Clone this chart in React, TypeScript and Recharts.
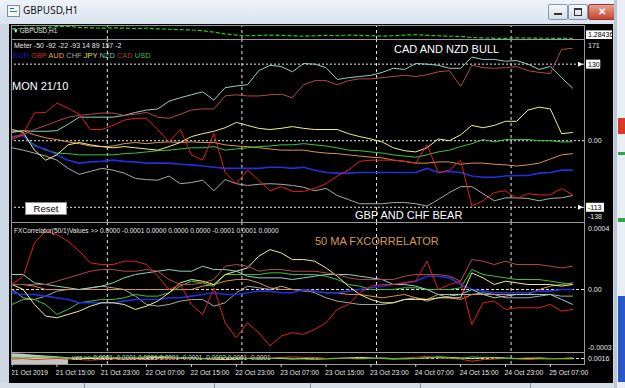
import React from 'react';
import { LineChart, Line, XAxis, YAxis, ReferenceLine, ComposedChart, Area } from 'recharts';

// ---------- categories (hours since 21 Oct 2019 07:00, H1 chart) ----------
const hours = [0, 2, 4, 6, 8, 10, 12, 14, 16, 18, 20, 22, 24, 26, 28, 30, 32, 34, 36, 38, 40, 42, 44, 46, 48, 50, 52, 54, 56, 58, 60, 62, 64, 66, 68, 70, 72, 74, 76, 78, 80, 82, 84, 86, 88, 90, 92, 94, 96, 98, 100];
const dayBreaks = [17, 41, 65, 89];
const timeTicks = [0, 8, 16, 24, 32, 40, 48, 56, 64, 72, 80, 88, 96];
const timeLabels = ['21 Oct 2019', '21 Oct 15:00', '21 Oct 23:00', '22 Oct 07:00', '22 Oct 15:00', '22 Oct 23:00', '23 Oct 07:00', '23 Oct 15:00', '23 Oct 23:00', '24 Oct 07:00', '24 Oct 15:00', '24 Oct 23:00', '25 Oct 07:00'];

const currencies = ['EUR', 'GBP', 'AUD', 'CHF', 'JPY', 'NZD', 'CAD', 'USD'];

// ---------- GBPUSD price (top mini window) ----------
const gbpusd = [1.2975, 1.2985, 1.299, 1.2995, 1.3005, 1.301, 1.2995, 1.299, 1.2985, 1.299, 1.2985, 1.298, 1.2985, 1.2975, 1.297, 1.2965, 1.296, 1.295, 1.293, 1.2905, 1.289, 1.288, 1.2885, 1.289, 1.2885, 1.288, 1.2875, 1.288, 1.2885, 1.288, 1.289, 1.2885, 1.288, 1.2875, 1.288, 1.289, 1.2895, 1.2885, 1.288, 1.2875, 1.287, 1.2855, 1.285, 1.2845, 1.2845, 1.285, 1.2848, 1.2846, 1.2845, 1.2844, 1.28436];
const priceTicks = [1.28436];
const priceTickLabels = ['1.28436'];

// ---------- Meter window ----------
const eurMeter = [7, 9, -9, -14, -24, -33, -38, -36, -35, -33, -35, -36, -38, -38, -38, -40, -41, -43, -45, -47, -47, -47, -47, -45, -45, -47, -45, -50, -54, -55, -55, -54, -54, -54, -54, -54, -54, -47, -54, -52, -54, -60, -62, -62, -60, -59, -59, -55, -54, -50, -50];
const gbpMeter = [5, 12, 47, 48, 64, 55, 45, 19, 19, 26, 35, 38, 38, 19, -2, 19, -24, -33, 12, -54, -73, -50, -67, -85, -78, -86, -86, -81, -73, -60, -50, -35, -33, -33, -33, -35, -38, -7, -54, -50, -33, -111, -102, -88, -85, -98, -90, -92, -92, -81, -92];
const audMeter = [16, 17, 10, 5, 2, -2, -5, -9, -10, -9, -5, -3, -5, -3, -2, -3, -2, -3, -3, -7, -9, -10, -12, -14, -16, -16, -16, -19, -21, -22, -24, -26, -28, -29, -33, -35, -38, -38, -36, -36, -40, -38, -38, -40, -41, -43, -41, -38, -31, -24, -22];
const chfMeter = [-12, -16, -21, -26, -33, -47, -57, -52, -47, -50, -55, -64, -66, -67, -60, -73, -71, -67, -85, -66, -73, -76, -74, -73, -74, -76, -79, -85, -81, -93, -100, -107, -107, -107, -105, -105, -107, -111, -100, -88, -78, -78, -90, -102, -97, -97, -98, -102, -98, -97, -93];
const jpyMeter = [19, 14, -16, -33, -24, -7, -3, -7, -10, -12, -10, -12, -14, -16, -10, -3, 7, 12, 16, 22, 31, 26, 21, 19, 21, 24, 21, 19, 19, 19, 12, 7, 3, -2, -12, -17, -19, -12, 3, 0, 10, 26, 22, 26, 33, 33, 52, 57, 54, 12, 14];
const nzdMeter = [14, 17, 16, 16, 17, 28, 40, 40, 40, 40, 43, 48, 52, 54, 67, 73, 78, 83, 69, 90, 93, 95, 119, 128, 126, 117, 131, 130, 124, 104, 107, 109, 111, 116, 123, 121, 131, 130, 128, 123, 123, 142, 138, 138, 135, 136, 130, 121, 126, 107, 89];
const cadMeter = [2, 10, 19, 26, 33, 40, 43, 45, 47, 47, 43, 45, 48, 40, 38, 45, 52, 54, 54, 76, 78, 76, 76, 78, 79, 73, 95, 102, 102, 95, 102, 105, 105, 107, 109, 111, 109, 112, 117, 119, 92, 128, 124, 123, 124, 126, 119, 116, 114, 155, 157];
const usdMeter = [7, 9, -7, -16, -21, -22, -24, -24, -24, -24, -22, -21, -19, -17, -16, -14, -12, -12, -10, -16, -14, -12, -10, -9, -7, -7, -5, -7, -9, -12, -16, -17, -19, -21, -24, -26, -28, -24, -19, -16, -10, -5, 2, -2, 2, 2, 2, 0, 0, -2, -2];
const meterLevels = [130, 0, -113];
const meterTicks = [171, 130, 0, -113, -138];
const meterTickLabels = ['171', '130', '0.00', '-113', '-138'];
const meterLastValues = [-50, -92, -22, -93, 14, 89, 157, -2];

// ---------- FXCorrelator(50/1) window, values in units of 0.0001 ----------
const eurCorr = [-0.2, -0.3, -0.3, -0.4, -0.5, -0.6, -0.8, -0.8, -0.8, -0.8, -0.7, -0.6, -0.6, -0.6, -0.5, -0.5, -0.4, -0.3, -0.2, -0.3, -0.3, -0.2, -0.1, -0.1, -0.2, -0.2, 0.0, -0.1, -0.2, -0.2, -0.1, 0.0, 0.1, 0.2, 0.3, 0.4, 0.5, 0.8, 0.8, 0.7, 0.3, 0.0, -0.1, -0.2, -0.2, -0.2, -0.2, -0.1, -0.1, 0.0, 0.0];
const gbpCorr = [0.3, 0.8, 2.8, 3.5, 3.3, 2.9, 2.3, 1.6, 1.5, 1.5, 1.7, 1.7, 1.5, 0.8, 0.0, 0.3, -0.9, -1.5, 0.1, -2.0, -2.9, -2.0, -2.6, -3.4, -2.8, -2.6, -2.7, -2.4, -2.0, -1.2, -0.9, -0.2, 0.2, 0.3, 0.3, 0.4, 0.5, 1.7, 0.0, 0.3, 0.5, -2.1, -0.8, -0.7, -1.2, -1.1, -1.1, -1.1, -0.9, -1.3, -1.2];
const audCorr = [0.3, 0.3, 0.2, 0.0, 0.0, 0.0, 0.0, 0.0, 0.0, 0.0, 0.0, 0.0, 0.0, 0.0, 0.0, 0.0, 0.0, 0.2, 0.3, 0.5, 0.6, 0.6, 0.4, 0.1, 0.0, 0.0, -0.1, -0.1, -0.2, -0.2, -0.3, -0.3, -0.4, -0.5, -0.4, -0.3, -0.5, -0.6, -0.3, -0.5, -0.6, -0.3, -0.3, -0.3, -0.3, -0.3, -0.3, 0.0, 0.2, 0.3, 0.4];
const chfCorr = [0.0, -0.5, -0.6, -0.4, -0.1, 0.0, 0.0, 0.1, 0.2, 0.1, 0.0, -0.4, -0.9, -1.0, -0.9, -0.7, -0.6, -0.6, -1.0, -0.8, -0.2, 0.2, 0.1, 0.0, 0.2, 0.0, 0.0, -0.2, -0.5, -0.7, -0.8, -0.9, -0.9, -0.9, -0.8, -0.6, -0.5, -0.7, -0.5, -0.4, -0.3, -0.3, -0.2, -0.3, -0.5, -0.5, -0.5, -0.4, -0.3, -0.4, -0.4];
const jpyCorr = [0.3, 0.0, -0.9, -1.6, -1.7, -1.5, -1.3, -1.0, -0.8, -0.8, -0.9, -1.2, -1.0, -0.7, -0.2, 0.4, 0.6, 0.5, 0.3, 0.9, 1.1, 1.3, 2.0, 2.4, 2.2, 1.8, 1.8, 1.7, 1.3, 0.8, 0.2, -0.3, -0.6, -0.8, -0.8, -0.6, -0.6, -0.6, -0.5, -0.5, -0.5, 1.0, 0.7, 0.3, 0.5, 0.4, 0.3, 0.3, 0.3, 0.2, 0.3];
const nzdCorr = [0.9, 0.9, 0.4, 0.3, 0.2, 0.1, 0.0, 0.1, 0.2, 0.4, 0.7, 0.9, 1.0, 1.1, 1.2, 1.1, 1.1, 1.4, 1.2, 1.2, 1.1, 0.8, 0.7, 0.7, 0.7, 0.6, 0.7, 0.8, 0.9, 0.9, 0.9, 0.8, 0.7, 0.6, 0.3, 0.3, 0.2, 0.0, -0.3, -0.3, -0.3, 0.0, -0.3, -0.5, -0.4, -0.3, -0.3, -0.3, -0.3, -0.6, -0.9];
const cadCorr = [0.3, 0.3, 0.3, 0.3, 0.5, 0.7, 0.9, 1.1, 1.2, 1.2, 1.1, 1.1, 1.2, 1.1, 0.6, 0.3, 0.3, 0.4, 0.6, 1.4, 1.5, 1.4, 1.1, 1.2, 1.2, 1.1, 1.1, 1.1, 1.0, 0.9, 0.7, 0.6, 0.6, 0.6, 0.6, 0.8, 0.9, 0.9, 0.9, 0.8, 0.5, 1.8, 1.7, 1.5, 1.7, 1.5, 1.5, 1.5, 1.4, 1.3, 1.4];
const usdCorr = [-0.9, -0.6, -0.6, -0.9, -1.5, -1.2, -0.8, -0.7, -0.6, -0.6, -0.5, -0.3, -0.4, -0.4, -0.2, 0.2, 0.5, 0.4, 0.2, 0.9, 0.9, 0.9, 0.9, 1.0, 1.0, 0.9, 0.9, 0.9, 0.8, 0.6, 0.3, 0.2, 0.0, 0.0, 0.0, 0.1, 0.1, 0.0, 0.0, 0.0, 0.1, 1.2, 0.9, 0.8, 0.7, 0.6, 0.6, 0.6, 0.5, 0.4, 0.3];
const corrTicks = [4.0, 0, -3.7];
const corrTickLabels = ['0.0004', '0.00', '-0.0003'];
const corrLastValues = ['0.0000', '-0.0001', '0.0000', '0.0000', '0.0000', '-0.0001', '0.0001', '0.0000'];

// ---------- bottom mini window ----------
const miniGreen = [0.2, 0.1, 0.2, 0.3, 0.2, 0.1, 0.1, 0.2, 0.3, 0.2, 0.1, 0.2, 0.3, 0.4, 0.3, 0.2, 0.1, 0.0, 0.1, 0.2, 0.1, 0.0, -0.1, 0.0, 0.1, 0.0, -0.1, -0.2, -0.1, 0.0, 0.1, 0.0, 0.0, 0.1, 0.0, -0.1, 0.0, 0.1, 0.2, 0.1, 0.0, 0.3, 0.2, 0.1, 0.0, 0.0, 0.1, 0.0, -0.1, 0.0, 0.0];
const miniRed = [-0.1, 0.0, -0.2, -0.1, 0.0, -0.1, -0.2, -0.3, -0.2, -0.1, 0.0, -0.1, -0.2, -0.1, 0.0, 0.1, 0.0, -0.1, 0.0, 0.1, 0.2, 0.1, 0.0, 0.1, 0.2, 0.3, 0.2, 0.1, 0.0, 0.1, 0.0, -0.1, 0.0, 0.1, 0.0, 0.1, 0.2, 0.4, 0.1, 0.0, -0.1, -0.5, -0.2, -0.1, 0.0, -0.1, -0.2, -0.1, 0.0, -0.1, -0.1];
const miniYellow = [0.0, 0.1, 0.0, -0.1, 0.0, 0.1, 0.0, 0.0, 0.1, 0.0, -0.1, 0.0, 0.1, 0.2, 0.1, 0.0, 0.1, 0.0, -0.1, -0.2, -0.1, 0.0, 0.1, 0.0, 0.0, -0.1, 0.0, 0.1, 0.0, 0.0, 0.1, 0.2, 0.1, 0.0, -0.1, 0.0, 0.0, 0.1, 0.3, 0.2, 0.1, 0.0, 0.1, 0.2, 0.1, 0.0, 0.0, 0.1, 0.0, 0.0, 0.1];
const miniHist = [0.95, 0.85, 0.7, 0.55, 0.4, 0.25];
const miniTicks = [0];
const miniTickLabels = ['0.0016'];
const miniValues = ['0.0001', '-0.0001', '0.0001', '0.0001', '-0.0001', '-0.0002', '0.0001', '-0.0001'];

// ---------- styling ----------
const COLORS: Record<string, string> = {
  EUR: '#2030dc', GBP: '#e61e1e', AUD: '#d8944c', CHF: '#a9a9a9',
  JPY: '#f2ee86', NZD: '#8fd2c4', CAD: '#b24a4a', USD: '#3cc43c',
};
const LEGEND_COLORS: Record<string, string> = {
  EUR: '#1c1cc8', GBP: '#d22c2c', AUD: '#e4a040', CHF: '#a8a8a8',
  JPY: '#e6e040', NZD: '#7cc0bc', CAD: '#a83c3c', USD: '#3cc43c',
};
const DRAW_ORDER = ['CHF', 'AUD', 'USD', 'EUR', 'JPY', 'NZD', 'CAD', 'GBP'];
const FONT = '"Liberation Sans", Arial, sans-serif';
const PLOT_W = 572;
const AXIS_W = 28;

function makeRightTick(values: number[], labels: string[], boxed: boolean[], nudge: number[]) {
  return (props: any) => {
    const v = props.payload ? props.payload.value : undefined;
    const i = values.indexOf(v);
    if (i < 0) return <g />;
    const y = props.y + nudge[i];
    const x = PLOT_W + 3;
    const label = labels[i];
    const w = label.length * 3.75 + 3;
    return (
      <g>
        {boxed[i] && <rect x={x - 1} y={y - 4.5} width={w} height={9} fill="#ffffff" />}
        <text x={x + 1} y={y} fill={boxed[i] ? '#000' : '#e8e8e8'} fontSize={7} fontFamily={FONT} dominantBaseline="central">
          {label}
        </text>
      </g>
    );
  };
}

const RightArrow = (props: any) => {
  const vb = props.viewBox;
  if (!vb) return null;
  const x = vb.x + vb.width - 1;
  const y = vb.y;
  return <polygon points={`${x - 5},${y - 2.5} ${x},${y} ${x - 5},${y + 2.5}`} fill="#ffffff" />;
};

const TimeTick = (props: any) => {
  const { x, y, payload } = props;
  const i = timeTicks.indexOf(payload.value);
  return (
    <g>
      <line x1={x} x2={x} y1={y} y2={y + 3} stroke="#cfcfcf" />
      <text x={x - 1} y={y + 10.5} fill="#e4e4e4" fontSize={6.8} fontFamily={FONT} textAnchor="start">
        {timeLabels[i]}
      </text>
    </g>
  );
};

const gridLines = (keyp: string) =>
  dayBreaks.map((d) => (
    <ReferenceLine key={keyp + d} x={d} stroke="#e6e6e6" strokeDasharray="3 3" ifOverflow="extendDomain" />
  ));

export default function App() {
  const priceRows = hours.map((h, i) => ({ h, price: gbpusd[i] }));
  const meterSeries: Record<string, number[]> = {
    EUR: eurMeter, GBP: gbpMeter, AUD: audMeter, CHF: chfMeter,
    JPY: jpyMeter, NZD: nzdMeter, CAD: cadMeter, USD: usdMeter,
  };
  const corrSeries: Record<string, number[]> = {
    EUR: eurCorr, GBP: gbpCorr, AUD: audCorr, CHF: chfCorr,
    JPY: jpyCorr, NZD: nzdCorr, CAD: cadCorr, USD: usdCorr,
  };
  const meterRows = hours.map((h, i) => {
    const r: any = { h };
    currencies.forEach((c) => (r[c] = meterSeries[c][i]));
    return r;
  });
  const corrRows = hours.map((h, i) => {
    const r: any = { h };
    currencies.forEach((c) => (r[c] = corrSeries[c][i]));
    return r;
  });
  const miniRows = hours.map((h, i) => ({
    h, g: miniGreen[i], r: miniRed[i], y: miniYellow[i], hist: i < miniHist.length ? miniHist[i] : null,
  }));

  const priceTick = makeRightTick(priceTicks, priceTickLabels, [true], [-3.5]);
  const meterTick = makeRightTick(meterTicks, meterTickLabels, [false, true, false, true, false], [5, 0, 0, 0, -6]);
  const corrTick = makeRightTick(corrTicks, corrTickLabels, [false, false, false], [5, 0, -4]);
  const miniTick = makeRightTick(miniTicks, miniTickLabels, [false], [0]);

  const hline = (top: number) => (
    <div style={{ position: 'absolute', left: 11, top, width: 574, height: 1, background: '#9a9a9a' }} />
  );

  return (
    <div style={{ position: 'absolute', left: 0, top: 0, width: 625, height: 388, background: '#cdd7e3', overflow: 'hidden', fontFamily: FONT }}>
      {/* title bar */}
      <div style={{ position: 'absolute', left: 0, top: 0, width: 614, height: 24, background: 'linear-gradient(#eef3f9, #d9e3ee)', borderRight: '1px solid #9aa8b8' }} />
      <div style={{ position: 'absolute', left: 7, top: 5, width: 11, height: 10, background: '#f4f8fc', border: '1px solid #7a8ea8' }}>
        <div style={{ position: 'absolute', left: 2, top: 5, width: 7, height: 1, background: '#2a9a2a' }} />
        <div style={{ position: 'absolute', left: 2, top: 2, width: 4, height: 1, background: '#3a5ad0' }} />
      </div>
      <div style={{ position: 'absolute', left: 23, top: 3, fontSize: 10, lineHeight: '14px', color: '#111', fontFamily: '"Noto Sans", "Open Sans", sans-serif' }}>GBPUSD,H1</div>
      <div style={{ position: 'absolute', left: 548, top: 4, width: 18, height: 14, borderRadius: 2, border: '1px solid #8797ab', background: 'linear-gradient(#f6f8fb, #d3dce8)' }}>
        <div style={{ position: 'absolute', left: 5, top: 8, width: 8, height: 2, background: '#333' }} />
      </div>
      <div style={{ position: 'absolute', left: 568, top: 4, width: 18, height: 14, borderRadius: 2, border: '1px solid #8797ab', background: 'linear-gradient(#f6f8fb, #d3dce8)' }}>
        <div style={{ position: 'absolute', left: 5, top: 3, width: 6, height: 5, border: '1px solid #333', borderTopWidth: 2 }} />
      </div>
      <div style={{ position: 'absolute', left: 588, top: 4, width: 26, height: 14, borderRadius: 2, border: '1px solid #8a3a30', background: 'linear-gradient(#e8a090, #c8442e)', color: '#fff', fontSize: 10, fontWeight: 700, lineHeight: '14px', textAlign: 'center' }}>✕</div>

      {/* black chart canvas */}
      <div style={{ position: 'absolute', left: 9, top: 24, width: 604, height: 359, background: '#000' }} />

      {/* right neighbour strip */}
      <div style={{ position: 'absolute', left: 614, top: 0, width: 11, height: 388, background: '#e9eef5' }} />
      <div style={{ position: 'absolute', left: 614, top: 0, width: 3, height: 388, background: '#b9c6d6' }} />
      <div style={{ position: 'absolute', left: 618, top: 118, width: 7, height: 16, background: '#d83a2a' }} />
      <div style={{ position: 'absolute', left: 618, top: 152, width: 7, height: 3, background: '#2aa84a' }} />
      <div style={{ position: 'absolute', left: 618, top: 218, width: 7, height: 4, background: '#2aa84a' }} />
      <div style={{ position: 'absolute', left: 618, top: 296, width: 7, height: 86, background: '#2a58c8' }} />

      {/* bottom tab strip */}
      <div style={{ position: 'absolute', left: 0, top: 383, width: 614, height: 5, background: '#d6dde6' }} />
      {[84, 214, 310, 420, 530].map((x) => (
        <div key={x} style={{ position: 'absolute', left: x, top: 383, width: 1, height: 5, background: '#8a96a6' }} />
      ))}

      {/* frame lines */}
      {hline(25)}
      {hline(39)}
      {hline(222)}
      {hline(352)}
      {hline(364)}
      <div style={{ position: 'absolute', left: 11, top: 25, width: 1, height: 340, background: '#9a9a9a' }} />
      <div style={{ position: 'absolute', left: 584, top: 25, width: 1, height: 340, background: '#9a9a9a' }} />

      {/* GBPUSD price window */}
      <div style={{ position: 'absolute', left: 12, top: 26 }}>
        <LineChart width={PLOT_W + AXIS_W} height={13} data={priceRows} margin={{ top: 0, right: 0, bottom: 0, left: 0 }}>
          <XAxis type="number" dataKey="h" domain={[0, 102]} hide />
          <YAxis orientation="right" domain={[1.2835, 1.3015]} ticks={priceTicks} interval={0} width={AXIS_W} axisLine={false} tickLine={false} tickSize={0} tick={priceTick} />
          {gridLines('p')}
          <Line dataKey="price" stroke="#22cc22" strokeWidth={1.2} strokeDasharray="4 2" dot={false} isAnimationActive={false} />
        </LineChart>
      </div>

      {/* Meter window */}
      <div style={{ position: 'absolute', left: 12, top: 40 }}>
        <LineChart width={PLOT_W + AXIS_W} height={182} data={meterRows} margin={{ top: 0, right: 0, bottom: 0, left: 0 }}>
          <XAxis type="number" dataKey="h" domain={[0, 102]} hide />
          <YAxis orientation="right" domain={[-138, 171]} ticks={meterTicks} interval={0} width={AXIS_W} axisLine={false} tickLine={false} tickSize={0} tick={meterTick} />
          {gridLines('m')}
          {meterLevels.map((lv) => (
            <ReferenceLine key={'lv' + lv} y={lv} stroke="#e8e8e8" strokeDasharray="2 2" label={lv !== 0 ? <RightArrow /> : undefined} />
          ))}
          {DRAW_ORDER.map((c) => (
            <Line key={c} dataKey={c} stroke={COLORS[c]} strokeWidth={c === 'EUR' ? 1.6 : 1} dot={false} isAnimationActive={false} />
          ))}
        </LineChart>
      </div>

      {/* FXCorrelator window */}
      <div style={{ position: 'absolute', left: 12, top: 223 }}>
        <LineChart width={PLOT_W + AXIS_W} height={128} data={corrRows} margin={{ top: 0, right: 0, bottom: 0, left: 0 }}>
          <XAxis type="number" dataKey="h" domain={[0, 102]} hide />
          <YAxis orientation="right" domain={[-3.7, 4.0]} ticks={corrTicks} interval={0} width={AXIS_W} axisLine={false} tickLine={false} tickSize={0} tick={corrTick} />
          {gridLines('c')}
          <ReferenceLine y={0} stroke="#e8e6c8" strokeDasharray="3 2" />
          {DRAW_ORDER.map((c) => (
            <Line key={c} dataKey={c} stroke={COLORS[c]} strokeWidth={c === 'EUR' ? 1.6 : 1} dot={false} isAnimationActive={false} />
          ))}
        </LineChart>
      </div>

      {/* bottom mini window + time axis */}
      <div style={{ position: 'absolute', left: 12, top: 353 }}>
        <ComposedChart width={PLOT_W + AXIS_W} height={33} data={miniRows} margin={{ top: 0, right: 0, bottom: 0, left: 0 }}>
          <XAxis type="number" dataKey="h" domain={[0, 102]} ticks={timeTicks} interval={0} height={22} axisLine={false} tickLine={false} tickSize={0} tickMargin={0} tick={<TimeTick />} />
          <YAxis orientation="right" domain={[-1, 1]} ticks={miniTicks} interval={0} width={AXIS_W} axisLine={false} tickLine={false} tickSize={0} tick={miniTick} />
          {gridLines('b')}
          <Area dataKey="hist" baseValue={-1} stroke="none" fill="#c4c4c4" fillOpacity={1} isAnimationActive={false} connectNulls={false} />
          <ReferenceLine y={0} stroke="#d8d8d8" strokeDasharray="3 2" />
          <Line dataKey="y" stroke="#e8e070" strokeWidth={1} dot={false} isAnimationActive={false} />
          <Line dataKey="r" stroke="#d83030" strokeWidth={1} dot={false} isAnimationActive={false} />
          <Line dataKey="g" stroke="#38c838" strokeWidth={1} dot={false} isAnimationActive={false} />
        </ComposedChart>
      </div>

      {/* window texts */}
      <div style={{ position: 'absolute', left: 14, top: 27, fontSize: 6.5, lineHeight: '7px', color: '#e6e6e6', whiteSpace: 'nowrap' }}>▾ GBPUSD,H1</div>
      <div style={{ position: 'absolute', left: 14, top: 42, fontSize: 7, lineHeight: '7px', color: '#e6e6e6', whiteSpace: 'nowrap' }}>
        {'Meter ' + meterLastValues.join(' ')}
      </div>
      <div style={{ position: 'absolute', left: 13, top: 52, fontSize: 7.5, lineHeight: '8px', whiteSpace: 'nowrap' }}>
        {currencies.map((c, i) => (
          <span key={c} style={{ color: LEGEND_COLORS[c] }}>{(i ? ' ' : '') + c}</span>
        ))}
      </div>
      <div style={{ position: 'absolute', left: 12, top: 80, fontSize: 11, lineHeight: '12px', color: '#fff', whiteSpace: 'nowrap' }}>MON 21/10</div>
      <div style={{ position: 'absolute', left: 394, top: 43, fontSize: 11, lineHeight: '12px', color: '#fff', whiteSpace: 'nowrap' }}>CAD AND NZD BULL</div>
      <div style={{ position: 'absolute', left: 355, top: 209, fontSize: 11, lineHeight: '12px', color: '#fff', whiteSpace: 'nowrap' }}>GBP AND CHF BEAR</div>
      <div style={{ position: 'absolute', left: 25, top: 202, width: 40, height: 11, background: '#fff', border: '1px solid #8a8a8a', fontSize: 9.5, lineHeight: '11px', color: '#000', textAlign: 'center' }}>Reset</div>
      <div style={{ position: 'absolute', left: 14, top: 227, fontSize: 6.6, lineHeight: '7px', color: '#e6e6e6', whiteSpace: 'nowrap' }}>
        {'FXCorrelator(50/1)Values >> ' + corrLastValues.join(' ')}
      </div>
      <div style={{ position: 'absolute', left: 315, top: 235, fontSize: 11, lineHeight: '12px', color: '#d69a52', whiteSpace: 'nowrap' }}>50 MA FXCORRELATOR</div>
      <div style={{ position: 'absolute', left: 72, top: 354, fontSize: 6.4, lineHeight: '7px', color: '#d8d8d8', whiteSpace: 'nowrap' }}>
        {'ues >> ' + miniValues.join(' ')}
      </div>
    </div>
  );
}
